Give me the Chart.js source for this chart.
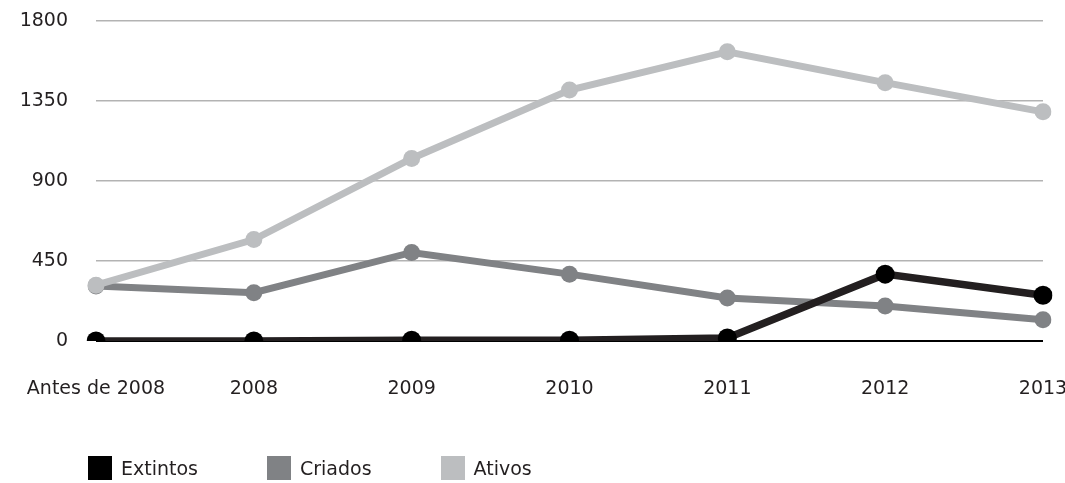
<!DOCTYPE html>
<html lang="pt">
<head>
    <meta charset="UTF-8">
    <title>Extintos, criados e ativos</title>
    <style>
        body {
            margin: 0;
            background: #fff;
            font-family: "DejaVu Sans", sans-serif;
        }
        #wrap {
            position: relative;
            width: 1065px;
            height: 483px;
        }
        #legend {
            position: absolute;
            left: 88px;
            top: 456px;
            display: flex;
            gap: 69px;
            font-size: 19px;
            color: #231f20;
        }
        #legend .item {
            display: flex;
            align-items: center;
        }
        #legend .box {
            width: 24px;
            height: 24px;
            margin-right: 9px;
        }
    </style>
</head>
<body>
    <div id="wrap">
        <canvas id="chart" width="1065" height="483"></canvas>
        <div id="legend"></div>
    </div>

    <script src="https://cdn.jsdelivr.net/npm/chart.js"></script>
    <script>
        const labels = ['Antes de 2008', '2008', '2009', '2010', '2011', '2012', '2013'];
        const extintos = [0, 0, 4, 4, 17, 376, 257];
        const criados = [310, 272, 498, 376, 242, 197, 120];
        const ativos = [314, 571, 1027, 1412, 1627, 1453, 1289];
        const yTicks = [0, 450, 900, 1350, 1800];

        const textColor = '#231f20';
        const font = { family: '"DejaVu Sans", sans-serif', size: 19 };

        function serie(label, data, line, point, width, radius, order) {
            return {
                label: label,
                data: data,
                borderColor: line,
                backgroundColor: point,
                pointBackgroundColor: point,
                pointBorderWidth: 0,
                pointRadius: radius,
                borderWidth: width,
                tension: 0,
                order: order
            };
        }

        const ctx = document.getElementById('chart').getContext('2d');
        const chart = new Chart(ctx, {
            type: 'line',
            data: {
                labels: labels,
                datasets: [
                    serie('Extintos', extintos, '#231f20', '#000000', 7.5, 9.5, 0),
                    serie('Criados', criados, '#808285', '#808285', 7, 8.5, 2),
                    serie('Ativos', ativos, '#bcbec0', '#bcbec0', 7, 8.5, 1)
                ]
            },
            options: {
                responsive: false,
                animation: false,
                events: [],
                layout: {
                    padding: { top: 21, right: 22, bottom: 82, left: 0 }
                },
                plugins: {
                    legend: { display: false },
                    tooltip: { enabled: false }
                },
                scales: {
                    x: {
                        offset: false,
                        grid: { display: false, drawTicks: false },
                        border: { display: false },
                        ticks: {
                            color: textColor,
                            font: font,
                            padding: 37,
                            maxRotation: 0,
                            autoSkip: false
                        },
                        afterFit: function(scale) {
                            scale.height = 60;
                            scale.paddingLeft = 0;
                            scale.paddingRight = 0;
                        }
                    },
                    y: {
                        min: 0,
                        max: 1800,
                        afterBuildTicks: function(scale) {
                            scale.ticks = yTicks.map(v => ({ value: v }));
                        },
                        grid: {
                            drawTicks: false,
                            color: ctx => ctx.tick && ctx.tick.value === 0 ? '#000000' : '#b3b3b3',
                            lineWidth: ctx => ctx.tick && ctx.tick.value === 0 ? 2 : 1.6
                        },
                        border: { display: false },
                        ticks: {
                            color: textColor,
                            font: font,
                            padding: 28,
                            callback: value => String(value)
                        },
                        afterFit: function(scale) {
                            scale.width = 96;
                            scale.paddingTop = 0;
                            scale.paddingBottom = 0;
                        }
                    }
                }
            }
        });

        // legenda em HTML, na ordem das séries
        const legend = document.getElementById('legend');
        chart.data.datasets.forEach(ds => {
            const item = document.createElement('div');
            item.className = 'item';
            const box = document.createElement('span');
            box.className = 'box';
            box.style.background = ds.pointBackgroundColor;
            const txt = document.createElement('span');
            txt.textContent = ds.label;
            item.appendChild(box);
            item.appendChild(txt);
            legend.appendChild(item);
        });
    </script>
</body>
</html>
